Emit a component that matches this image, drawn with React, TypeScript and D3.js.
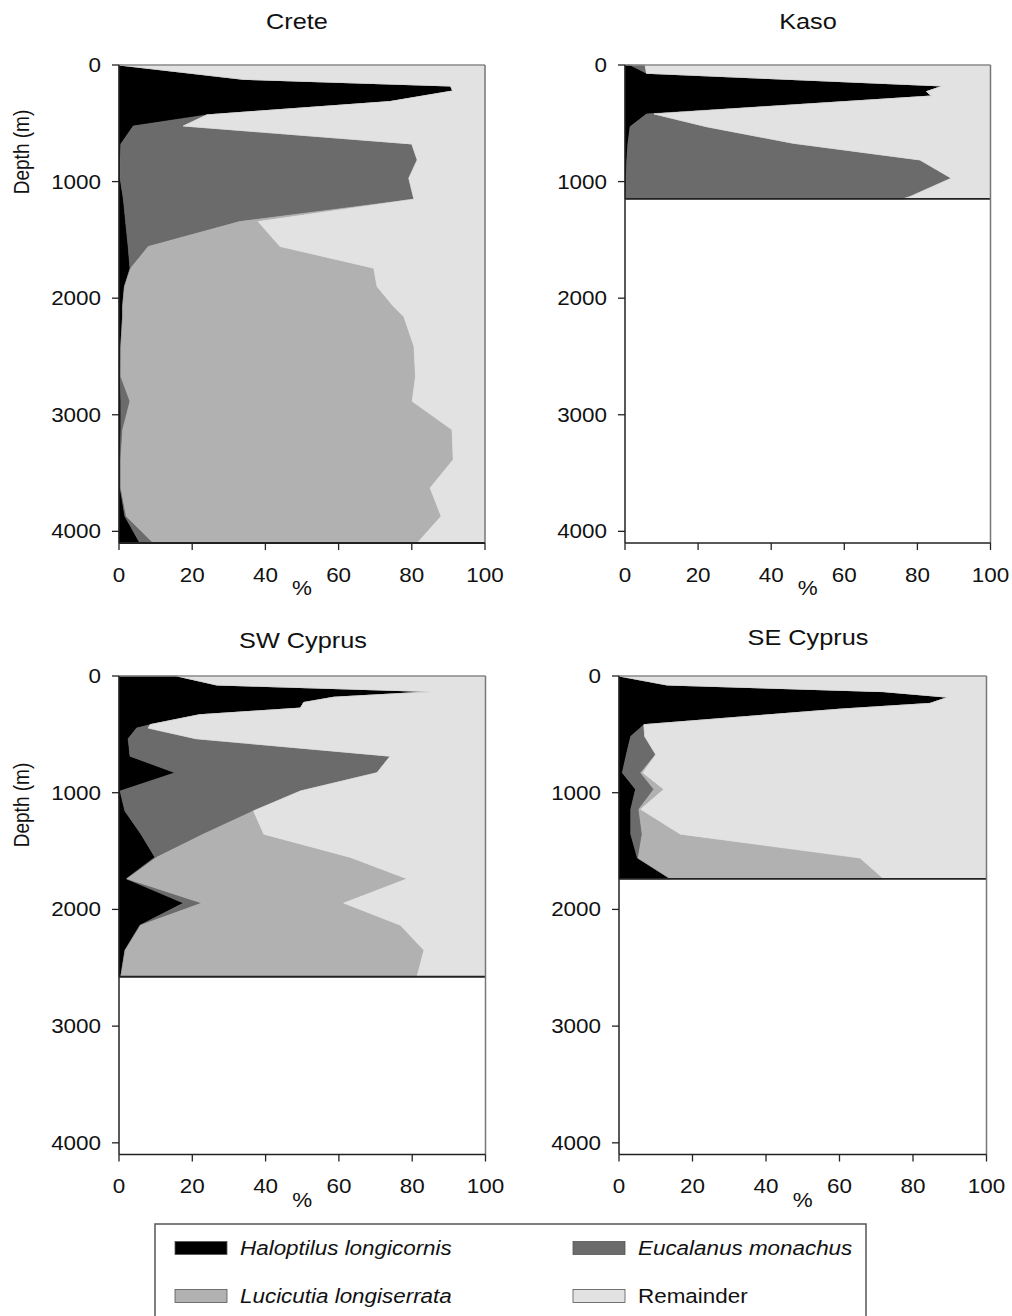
import React, { useEffect } from 'react';
import * as d3 from 'd3';

// Species order is the stacking order, from the depth axis outwards.
const speciesKeys = ['haloptilus', 'eucalanus', 'lucicutia', 'remainder'];
const speciesLabels = ['Haloptilus longicornis', 'Eucalanus monachus', 'Lucicutia longiserrata', 'Remainder'];
const speciesItalic = [true, true, true, false];
const speciesColors = ['#000000', '#6b6b6b', '#b1b1b1', '#e2e2e2'];

const depthTicks = [0, 1000, 2000, 3000, 4000];
const percentTicks = [0, 20, 40, 60, 80, 100];

// Crete station (% of copepod abundance per depth)
const creteDepth = [0, 123, 180, 223, 314, 428, 523, 677, 814, 971, 1151, 1343, 1557, 1743, 1900, 2071, 2157, 2414, 2671, 2885, 3128, 3385, 3628, 3871, 4100];
const creteHaloptilus = [0, 34, 90.6, 91.2, 74, 24, 3.9, 0.5, 0.3, 0.3, 1.2, 1.8, 2.5, 3, 1.5, 1, 1, 0.5, 0.3, 0.5, 0.5, 0.3, 0.3, 1.6, 5.7];
const creteEucalanus = [0, 0, 0, 0, 0, 0, 13.7, 79.5, 81.2, 78.9, 79.4, 31.2, 5.5, 0.2, 0, 0, 0, 0, 0.2, 2.5, 0.5, 0.2, 0.2, 0.4, 3.7];
const creteLucicutia = [0, 0, 0, 0, 0, 0, 0, 0, 0, 0, 0, 5, 36, 66.4, 69, 74, 76.8, 80.1, 80.5, 77.1, 90, 90.8, 84.5, 86, 72.1];

// Kaso station
const kasoDepth = [0, 71, 180, 228, 266, 420, 529, 671, 814, 971, 1129, 1149];
const kasoHaloptilus = [1.4, 5.9, 87, 82.5, 83.9, 5.9, 1.4, 0.8, 0.5, 0.3, 0.2, 0.2];
const kasoEucalanus = [4.1, 0, 0, 0, 0, 2.1, 20.9, 45.2, 80.2, 89, 77.8, 75.8];
const kasoLucicutia = [0, 0, 0, 0, 0, 0, 0, 0, 0, 0, 0, 0];

// SW Cyprus station
const swDepth = [0, 77, 134, 182, 227, 275, 332, 417, 446, 537, 687, 829, 986, 1156, 1355, 1553, 1738, 1946, 2136, 2349, 2577];
const swHaloptilus = [15.8, 26.7, 86, 58.6, 50.4, 49.5, 22, 8.5, 4.8, 2.5, 3, 15.3, 0.3, 1.6, 6, 9.8, 2, 17.6, 5.7, 1.6, 0.5];
const swEucalanus = [0, 0, 0, 0, 0, 0, 0, 0, 3.2, 18.5, 71, 55.1, 49.2, 35.1, 17, 0.5, 0.2, 5, 0.2, 0.1, 0];
const swLucicutia = [0, 0, 0, 0, 0, 0, 0, 0, 0, 0, 0, 0, 0, 0, 16.5, 52.7, 76.4, 38.7, 70.9, 81.5, 80.8];

// SE Cyprus station
const seDepth = [0, 77, 134, 182, 235, 284, 417, 517, 673, 829, 971, 1142, 1355, 1560, 1738];
const seHaloptilus = [0, 13.1, 72, 89.6, 84.6, 60.2, 6.8, 3.2, 2, 0.9, 4.5, 3.2, 3.2, 5, 14];
const seEucalanus = [0, 0, 0, 0, 0, 0, 0, 3.8, 8, 5, 5, 2.2, 3.1, 0.2, 0];
const seLucicutia = [0, 0, 0, 0, 0, 0, 0, 0, 0, 0.6, 2.7, 0.5, 10.4, 60.4, 58];

type Frame = { left: number; right: number; top: number; bottom: number; titleX: number; titleY: number; depthLabelY: number | null };

const panels = [
  { title: 'Crete', depth: creteDepth, h: creteHaloptilus, e: creteEucalanus, l: creteLucicutia,
    frame: { left: 119, right: 485, top: 65, bottom: 543, titleX: 297, titleY: 29, depthLabelY: 152 } as Frame },
  { title: 'Kaso', depth: kasoDepth, h: kasoHaloptilus, e: kasoEucalanus, l: kasoLucicutia,
    frame: { left: 625, right: 990.5, top: 65, bottom: 543, titleX: 808, titleY: 29, depthLabelY: null } as Frame },
  { title: 'SW Cyprus', depth: swDepth, h: swHaloptilus, e: swEucalanus, l: swLucicutia,
    frame: { left: 119, right: 485.5, top: 676, bottom: 1154.5, titleX: 303, titleY: 648, depthLabelY: 805 } as Frame },
  { title: 'SE Cyprus', depth: seDepth, h: seHaloptilus, e: seEucalanus, l: seLucicutia,
    frame: { left: 619, right: 986.5, top: 676, bottom: 1154.5, titleX: 808, titleY: 645, depthLabelY: null } as Frame },
];

const FONT = '"Liberation Sans", Arial, Helvetica, sans-serif';
const STRETCH = 1.15;

function Label({ x, y, size, anchor = 'middle', italic = false, baseline, children }: any) {
  return (
    <text
      transform={`translate(${x},${y}) scale(${STRETCH},1)`}
      fontFamily={FONT}
      fontSize={size}
      fontStyle={italic ? 'italic' : 'normal'}
      textAnchor={anchor}
      dominantBaseline={baseline}
      fill="#111"
    >
      {children}
    </text>
  );
}

function Panel({ p }: { p: (typeof panels)[number] }) {
  const f = p.frame;
  const x = d3.scaleLinear().domain([0, 100]).range([f.left, f.right]);
  const y = d3.scaleLinear().domain([0, 4100]).range([f.top, f.bottom]);

  const rows = p.depth.map((d, i) => ({
    depth: d,
    haloptilus: p.h[i],
    eucalanus: p.e[i],
    lucicutia: p.l[i],
    remainder: 100 - p.h[i] - p.e[i] - p.l[i],
  }));
  const series = d3.stack<any>().keys(speciesKeys)(rows);
  const area = d3
    .area<any>()
    .y((d) => y(d.data.depth))
    .x0((d) => x(d[0]))
    .x1((d) => x(d[1]))
    .curve(d3.curveLinear);

  const maxDepth = d3.max(p.depth) as number;

  return (
    <g>
      <rect x={f.left} y={f.top} width={f.right - f.left} height={f.bottom - f.top} fill="#fff" />
      {series.map((s, i) => (
        <path key={speciesKeys[i]} d={area(s as any) || ''} fill={speciesColors[i]} stroke={speciesColors[i]} strokeWidth={0.6} />
      ))}
      {/* lower edge of the sampled profile */}
      <line x1={x(0)} x2={x(100)} y1={y(maxDepth)} y2={y(maxDepth)} stroke="#222" strokeWidth={1.8} />
      {/* plot border */}
      <line x1={f.left} x2={f.right} y1={f.top} y2={f.top} stroke="#8a8a8a" strokeWidth={1.5} />
      <line x1={f.right} x2={f.right} y1={f.top} y2={f.bottom} stroke="#777" strokeWidth={1.5} />
      {/* axes */}
      <line x1={f.left} x2={f.left} y1={f.top} y2={f.bottom} stroke="#222" strokeWidth={1.5} />
      <line x1={f.left} x2={f.right} y1={f.bottom} y2={f.bottom} stroke="#222" strokeWidth={1.5} />
      {depthTicks.map((t) => (
        <g key={'d' + t}>
          <line x1={f.left - 7} x2={f.left} y1={y(t)} y2={y(t)} stroke="#222" strokeWidth={1.3} />
          <Label x={f.left - 18} y={y(t)} size={19.5} anchor="end" baseline="central">{t}</Label>
        </g>
      ))}
      {percentTicks.map((t) => (
        <g key={'p' + t}>
          <line x1={x(t)} x2={x(t)} y1={f.bottom} y2={f.bottom + 7} stroke="#222" strokeWidth={1.3} />
          <Label x={x(t)} y={f.bottom + 38.5} size={19.5}>{t}</Label>
        </g>
      ))}
      <Label x={(f.left + f.right) / 2} y={f.bottom + 52} size={19.5}>%</Label>
      <Label x={f.titleX} y={f.titleY} size={22}>{p.title}</Label>
      {f.depthLabelY !== null && (
        <text
          transform={`translate(29,${f.depthLabelY}) rotate(-90) scale(1,${STRETCH})`}
          fontFamily={FONT}
          fontSize={19}
          textAnchor="middle"
          fill="#111"
        >
          Depth (m)
        </text>
      )}
    </g>
  );
}

function Legend() {
  const cols = [175, 573];
  const rowsY = [1248, 1296];
  return (
    <g>
      <rect x={155} y={1224} width={711} height={110} fill="#fff" stroke="#555" strokeWidth={1.5} />
      {speciesKeys.map((k, i) => {
        const cx = cols[i % 2];
        const cy = rowsY[Math.floor(i / 2)];
        return (
          <g key={k}>
            <rect x={cx} y={cy - 6.5} width={52} height={13} fill={speciesColors[i]} stroke="#555" strokeWidth={0.8} />
            <Label x={cx + 65} y={cy} size={19.5} anchor="start" italic={speciesItalic[i]} baseline="central">
              {speciesLabels[i]}
            </Label>
          </g>
        );
      })}
    </g>
  );
}

export default function App() {
  useEffect(() => {
    document.body.style.margin = '0';
  }, []);
  return (
    <svg width={1012} height={1316} style={{ position: 'absolute', left: 0, top: 0, display: 'block', background: '#fff' }}>
      <rect x={0} y={0} width={1012} height={1316} fill="#fff" />
      {panels.map((p) => (
        <Panel key={p.title} p={p} />
      ))}
      <Legend />
    </svg>
  );
}
